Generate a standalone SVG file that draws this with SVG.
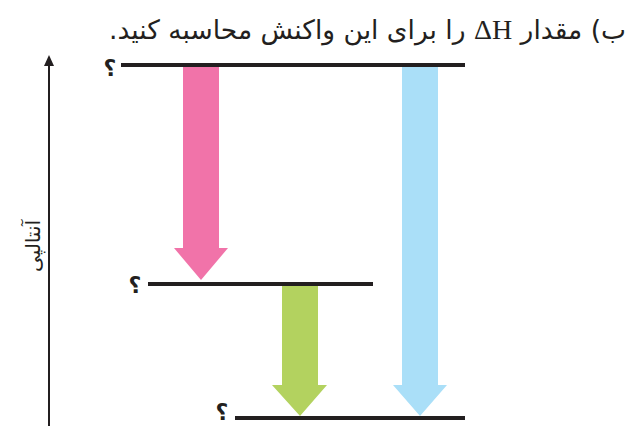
<svg xmlns="http://www.w3.org/2000/svg" width="633" height="426" viewBox="0 0 633 426">
<style>
.lvl{stroke:#231f20;stroke-width:4;fill:none}
.q{font-family:"DejaVu Sans",sans-serif;font-size:22px;font-weight:bold;fill:#231f20;text-anchor:middle}
.fa{font-family:"DejaVu Sans","Noto Sans",sans-serif;fill:#231f20}
</style>
<rect width="633" height="426" fill="#fff"/>
<text class="fa" x="626" y="39" font-size="26.5" direction="rtl" text-anchor="start">ب) مقدار <tspan font-family="Liberation Serif, serif" font-size="28">ΔH</tspan> را برای این واکنش محاسبه کنید.</text>
<g id="axis">
<line x1="49" y1="64" x2="49" y2="426" stroke="#231f20" stroke-width="2"/>
<polygon points="49,55 44,66 54,66" fill="#231f20"/>
<text class="fa" font-size="20" text-anchor="middle" transform="translate(40,246) rotate(-90)">آنتالپی</text>
</g>
<g id="level-top">
<line class="lvl" x1="121" y1="65" x2="465" y2="65"/>
<text class="q" x="110" y="76">؟</text>
</g>
<g id="level-mid">
<line class="lvl" x1="148" y1="284" x2="373" y2="284"/>
<text class="q" x="135" y="293">؟</text>
</g>
<g id="level-bottom">
<line class="lvl" x1="235" y1="418" x2="465" y2="418"/>
<text class="q" x="222" y="420">؟</text>
</g>
<g id="connectors">
<polygon id="pink" points="183,67 219,67 219,248 228,248 201,280 174,248 183,248" fill="#f173a9"/>
<polygon id="blue" points="402,67 438,67 438,385 447,385 420,416 393,385 402,385" fill="#aadff8"/>
<polygon id="green" points="282,286 318,286 318,385 327,385 300,416 272,385 282,385" fill="#b3d25f"/>
</g>
</svg>
